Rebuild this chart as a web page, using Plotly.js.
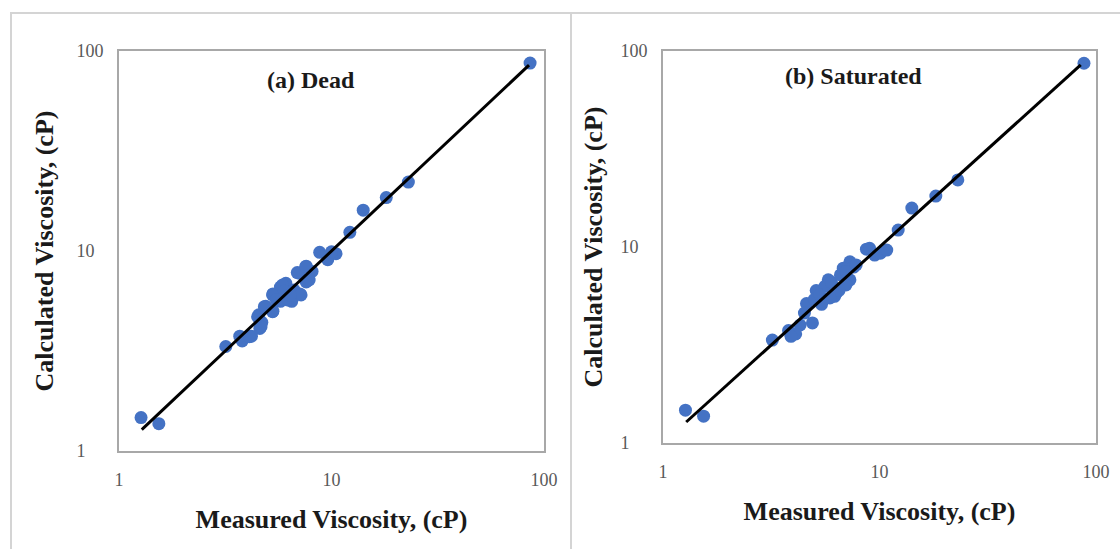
<!DOCTYPE html>
<html>
<head>
<meta charset="utf-8">
<script src="https://cdn.plot.ly/plotly-3.0.1.min.js"></script>
<style>
  html, body { margin: 0; padding: 0; background: #ffffff; }
  #chart { width: 1120px; height: 549px; }
</style>
</head>
<body>
<div id="chart"></div>
<script>
// Dead oil viscosity: measured vs calculated (cP)
const deadMeasured = [86, 23, 18.1, 14.1, 12.2, 8.8, 9.6, 10.5, 10.0, 8.1, 7.6, 6.9, 7.6, 7.1, 6.5,
  6.1, 5.75, 5.3, 5.75, 4.9, 5.3, 4.55, 4.7, 4.6, 4.2, 3.8, 3.7, 3.18, 1.27, 1.54,
  4.66, 4.49, 4.83, 5.28, 5.28, 5.88, 6.21, 6.67, 7.04, 7.57, 7.19, 7.85, 6.0, 5.5, 6.4, 4.11];
const deadCalculated = [87, 22.1, 18.5, 16.0, 12.4, 9.85, 9.05, 9.7, 9.9, 7.9, 8.4, 7.8, 7.0, 6.1, 5.6,
  6.9, 6.6, 6.1, 5.6, 5.3, 5.0, 4.8, 4.4, 4.1, 3.75, 3.55, 3.75, 3.33, 1.47, 1.37,
  4.18, 4.69, 5.27, 6.03, 4.97, 6.76, 5.69, 6.38, 7.74, 8.35, 6.03, 7.16, 6.3, 5.7, 6.0, 3.73];

// Saturated oil viscosity: measured vs calculated (cP)
const satMeasured = [88, 23, 18.2, 14.1, 12.2, 8.7, 9.5, 10.1, 10.8, 9.0, 7.3, 6.8, 7.3, 6.3, 5.8,
  5.1, 4.9, 4.6, 3.8, 3.2, 1.27, 1.54, 4.3, 4.5, 5.0, 5.4, 5.6, 6.0, 6.2, 6.6, 7.0, 7.6, 7.0,
  5.3, 4.1, 3.9, 6.5, 7.8, 5.9];
const satCalculated = [86.6, 22, 18.2, 15.8, 12.2, 9.75, 9.1, 9.3, 9.65, 9.85, 8.4, 7.8, 6.8, 5.8, 6.8,
  6.0, 4.1, 5.15, 3.75, 3.35, 1.47, 1.37, 4.0, 4.6, 5.4, 5.1, 6.3, 6.6, 5.6, 7.2, 6.4, 7.9, 7.5,
  5.7, 3.6, 3.5, 6.0, 8.1, 5.5];

// 45-degree reference line end points (cP)
const parityLine = [1.28, 85];

const tickVals = [1, 10, 100];
const tickTextY = ['1\u00a0\u00a0\u00a0\u00a0', '10\u00a0\u00a0', '100'];
const tickTextX = ['1', '10', '100'];

const panelTitles = ['(a) Dead', '(b) Saturated'];
const xTitle = 'Measured Viscosity, (cP)';
const yTitle = 'Calculated Viscosity, (cP)';

const W = 1120, H = 549;
const serif = '"Liberation Serif", "Times New Roman", serif';
const markerColor = '#4472C4';
const titleFont = { family: serif, size: 26, color: '#1a1a1a', weight: 'bold' };
const tickFont = { family: serif, size: 18, color: '#595959' };

const traces = [
  { x: deadMeasured, y: deadCalculated, type: 'scatter', mode: 'markers',
    marker: { color: markerColor, size: 13 }, xaxis: 'x', yaxis: 'y', hoverinfo: 'x+y' },
  { x: parityLine, y: parityLine, type: 'scatter', mode: 'lines',
    line: { color: '#000000', width: 3 }, xaxis: 'x', yaxis: 'y' },
  { x: satMeasured, y: satCalculated, type: 'scatter', mode: 'markers',
    marker: { color: markerColor, size: 13 }, xaxis: 'x2', yaxis: 'y2', hoverinfo: 'x+y' },
  { x: parityLine, y: parityLine, type: 'scatter', mode: 'lines',
    line: { color: '#000000', width: 3 }, xaxis: 'x2', yaxis: 'y2' }
];

function xAxis(domain, anchor, standoff) {
  return {
    type: 'log', range: [0, 2], domain: domain, anchor: anchor,
    tickmode: 'array', tickvals: tickVals, ticktext: tickTextX,
    ticks: 'outside', ticklen: 11, tickcolor: 'rgba(0,0,0,0)',
    tickfont: tickFont,
    showgrid: false, zeroline: false,
    showline: true, mirror: true, linecolor: '#a8a8a8', linewidth: 2,
    automargin: false,
    title: { text: xTitle, standoff: standoff, font: titleFont }
  };
}
function yAxis(domain, anchor, standoff) {
  return {
    type: 'log', range: [0, 2], domain: domain, anchor: anchor,
    tickmode: 'array', tickvals: tickVals, ticktext: tickTextY,
    ticks: 'outside', ticklen: 10, tickcolor: 'rgba(0,0,0,0)',
    tickfont: tickFont,
    showgrid: false, zeroline: false,
    showline: true, mirror: true, linecolor: '#a8a8a8', linewidth: 2,
    automargin: false,
    title: { text: yTitle, standoff: standoff, font: titleFont }
  };
}

const layout = {
  width: W, height: H,
  margin: { l: 0, r: 0, t: 0, b: 0 },
  paper_bgcolor: '#ffffff', plot_bgcolor: '#ffffff',
  showlegend: false,
  xaxis: xAxis([119 / W, 544 / W], 'y', 21),
  yaxis: yAxis([1 - 451 / H, 1 - 51 / H], 'x', 15),
  xaxis2: xAxis([663 / W, 1096 / W], 'y2', 21),
  yaxis2: yAxis([1 - 443 / H, 1 - 51 / H], 'x2', 10),
  annotations: [
    { text: panelTitles[0], xref: 'x domain', yref: 'y domain', x: 0.452, y: 0.9275,
      xanchor: 'center', yanchor: 'middle', showarrow: false,
      font: { family: serif, size: 24, color: '#1a1a1a', weight: 'bold' } },
    { text: panelTitles[1], xref: 'x2 domain', yref: 'y2 domain', x: 0.439, y: 0.937,
      xanchor: 'center', yanchor: 'middle', showarrow: false,
      font: { family: serif, size: 24, color: '#1a1a1a', weight: 'bold' } }
  ],
  shapes: [
    // outer panel frame and divider
    { type: 'line', xref: 'paper', yref: 'paper', x0: 10 / W, x1: 1, y0: 1 - 13 / H, y1: 1 - 13 / H,
      line: { color: '#d4d4d4', width: 2 } },
    { type: 'line', xref: 'paper', yref: 'paper', x0: 11 / W, x1: 11 / W, y0: 0, y1: 1 - 13 / H,
      line: { color: '#d4d4d4', width: 2 } },
    { type: 'line', xref: 'paper', yref: 'paper', x0: 571 / W, x1: 571 / W, y0: 0, y1: 1 - 13 / H,
      line: { color: '#d4d4d4', width: 2 } }
  ]
};

Plotly.newPlot('chart', traces, layout, { staticPlot: true, displayModeBar: false });
</script>
</body>
</html>
